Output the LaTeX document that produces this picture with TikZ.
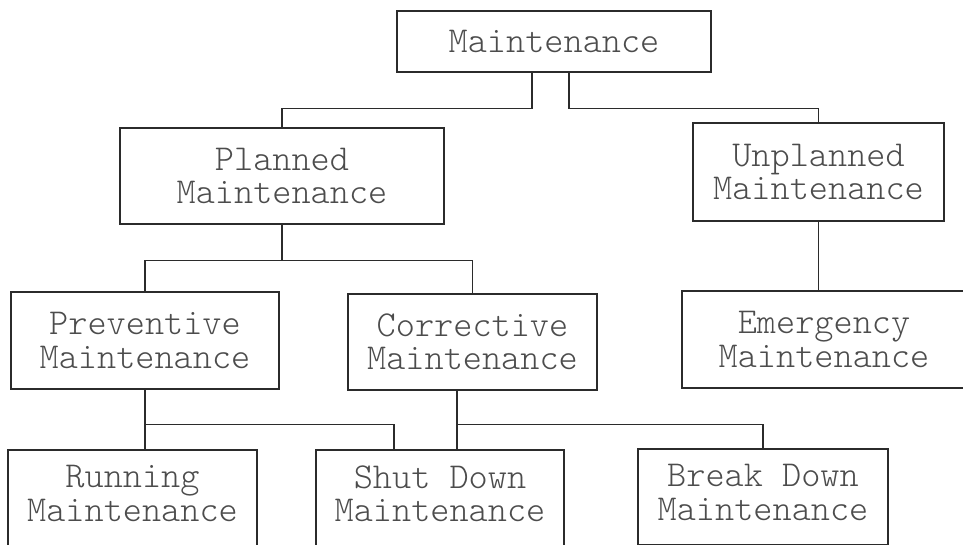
\documentclass[tikz,border=0pt]{standalone}
\usepackage{fontspec}
\newfontfamily\boxfont{lmmonolt10-regular.otf}
\definecolor{linecol}{gray}{0.17}
\definecolor{textcol}{gray}{0.30}
\begin{document}
\begin{tikzpicture}[x=1pt,y=-1pt,
  box/.style={draw=linecol, line width=1.3pt, rectangle, inner sep=0pt,
    align=center, text=textcol,
    font=\boxfont\fontsize{36.5}{33.5}\selectfont},
  lowbox/.style={box, text depth=9pt},
  link/.style={draw=linecol, line width=1.4pt}]
\useasboundingbox (0,0) rectangle (963,545);

% boxes
\node[box, minimum width=314pt, minimum height=61pt] (root) at (554,41.5) {Maintenance};
\node[box, minimum width=324pt, minimum height=96pt] (planned) at (282,176) {Planned\\Maintenance};
\node[box, minimum width=251pt, minimum height=98pt] (unplanned) at (818.5,172) {Unplanned\\Maintenance};
\node[box, minimum width=268pt, minimum height=97pt] (preventive) at (145,340.5) {Preventive\\Maintenance};
\node[box, minimum width=249pt, minimum height=96pt] (corrective) at (472.5,342) {Corrective\\Maintenance};
\node[box, minimum width=284pt, minimum height=97pt] (emergency) at (824,339.5) {Emergency\\Maintenance};
\node[lowbox, minimum width=249pt, minimum height=96pt] (running) at (132.5,498) {Running\\Maintenance};
\node[lowbox, minimum width=248pt, minimum height=96pt] (shutdown) at (440,498) {Shut Down\\Maintenance};
\node[lowbox, minimum width=250pt, minimum height=96pt] (breakdown) at (763,497) {Break Down\\Maintenance};

% first level
\draw[link] ([xshift=-22pt]root.south) -- ++(0,36) -| (planned.north);
\draw[link] ([xshift=15pt]root.south) -- ++(0,36) -| (unplanned.north);

% planned branch
\draw[link] (planned.south) -- ++(0,36) coordinate (pj) -| (preventive.north);
\draw[link] (pj) -| (corrective.north);

% unplanned branch
\draw[link] (unplanned.south) -- (unplanned.south |- emergency.north);

% preventive branch
\draw[link] (preventive.south) -- (preventive.south |- running.north);
\draw[link] ([yshift=-35pt]preventive.south) -| ([xshift=-46pt]shutdown.north);

% corrective branch
\draw[link] ([xshift=-15.5pt]corrective.south) -- ([xshift=-15.5pt]corrective.south |- shutdown.north);
\draw[link] ([xshift=-15.5pt,yshift=-34pt]corrective.south) -| (breakdown.north);
\end{tikzpicture}
\end{document}
